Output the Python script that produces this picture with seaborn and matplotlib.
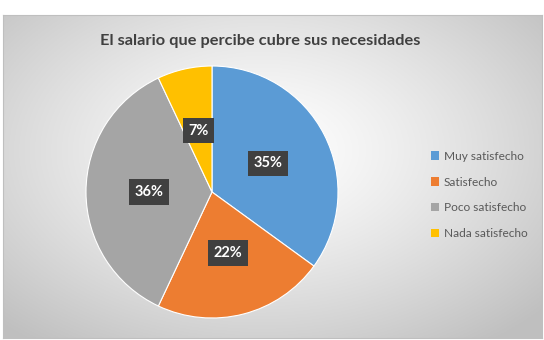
import numpy as np
import matplotlib
matplotlib.use("Agg")
import matplotlib.pyplot as plt
import seaborn as sns
from matplotlib.patches import Patch

TITLE = "El salario que percibe cubre sus necesidades"
categories = ["Muy satisfecho", "Satisfecho", "Poco satisfecho", "Nada satisfecho"]
percent = [35, 22, 36, 7]
colors = ["#5B9BD5", "#ED7D31", "#A5A5A5", "#FFC000"]

sns.set_style("white")
plt.rcParams["font.family"] = ["Lato", "DejaVu Sans"]

W, H = 544, 340
fig = plt.figure(figsize=(W / 100, H / 100), dpi=100)
fig.patch.set_facecolor("white")

# chart area with a soft radial gradient
bg = fig.add_axes([3 / W, 2 / H, 539 / W, 323 / H])
yy, xx = np.mgrid[0:1:200j, 0:1:340j]
d = np.sqrt(((xx - 0.48) / 0.7) ** 2 + ((yy - 0.42) / 0.75) ** 2)
shade = 1.0 - 0.25 * np.clip(d, 0, 1) ** 1.3
bg.imshow(np.dstack([shade] * 3), aspect="auto", extent=[0, 1, 0, 1], origin="upper")
bg.set_xticks([])
bg.set_yticks([])
for s in bg.spines.values():
    s.set_color("#BFBFBF")
    s.set_linewidth(0.8)

fig.text(260 / W, 1 - 41 / H, TITLE, ha="center", va="center",
         fontsize=11.8, fontweight="bold", color="#404040")

# pie
cx, cy, r = 212, 192, 126
ax = fig.add_axes([(cx - r) / W, (H - cy - r) / H, 2 * r / W, 2 * r / H])
wedges, texts, autotexts = ax.pie(
    percent, colors=colors, startangle=90, counterclock=False,
    autopct=lambda p: f"{p:.0f}%", pctdistance=0.5, radius=1,
    wedgeprops=dict(edgecolor="white", linewidth=0.8))
ax.set_xlim(-1, 1)
ax.set_ylim(-1, 1)
ax.set_aspect("equal")
ax.axis("off")
for t in autotexts:
    t.set_color("white")
    t.set_fontweight("bold")
    t.set_fontsize(10.5)
    t.set_bbox(dict(boxstyle="square,pad=0.38", facecolor="#404040", edgecolor="none"))

handles = [Patch(facecolor=c, edgecolor="none") for c in colors]
leg = fig.legend(handles, categories, loc="center left",
                 bbox_to_anchor=(420 / W, 1 - 195 / H), frameon=False,
                 fontsize=8.6, labelcolor="#595959", handlelength=0.7,
                 handleheight=0.7, handletextpad=0.4, labelspacing=1.25)

fig.savefig("out.png", dpi=100)
